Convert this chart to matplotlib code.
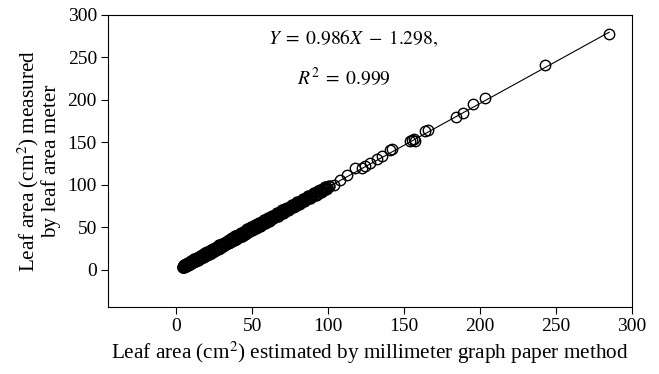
import matplotlib
matplotlib.use('Agg')
import matplotlib.pyplot as plt
import numpy as np

# leaf area, graph paper method (x) vs leaf area meter (y)
x_dense = [4.2, 4.8, 5.1, 5.6, 6.0, 6.3, 7.1, 7.4, 8.2, 8.8, 9.5, 10.3, 11.0, 11.8,
           12.4, 13.5, 14.1, 15.2, 16.0, 16.8, 17.9, 18.5, 19.6, 20.4, 21.3, 22.5,
           23.1, 24.2, 25.0, 26.4, 27.1, 28.3, 29.0, 30.2, 31.5, 32.4, 33.8, 34.5,
           35.6, 36.9, 37.7, 38.8, 39.5, 40.6, 41.9, 42.8, 43.6, 44.9, 45.7, 46.8,
           48.0, 49.2, 50.5, 51.8, 53.1, 54.6, 55.9, 57.4, 58.8, 60.3, 61.7, 63.2,
           64.5, 66.1, 67.8, 69.4, 71.0, 72.6, 74.3, 76.1, 77.9, 79.5, 81.4, 83.2,
           85.0, 86.9, 88.7, 90.8, 92.5, 94.3, 96.0, 97.6, 99.2, 100.5]
y_dense = [3.0, 4.2, 3.2, 5.0, 4.1, 6.2, 5.3, 7.5, 6.4, 8.9, 8.1, 10.6, 9.2, 12.1,
           10.5, 13.8, 12.0, 15.5, 14.0, 17.2, 16.0, 19.1, 17.6, 21.0, 19.0, 22.9,
           20.9, 24.6, 22.6, 26.8, 24.7, 28.6, 26.5, 30.7, 29.0, 33.0, 31.4, 35.2,
           33.0, 37.4, 35.2, 39.4, 37.0, 41.3, 39.6, 43.5, 41.0, 45.6, 43.3, 47.4,
           45.5, 49.9, 48.2, 52.5, 50.6, 55.4, 53.1, 58.0, 56.2, 60.9, 59.1, 63.7,
           62.0, 66.5, 65.3, 69.8, 68.4, 73.0, 71.5, 76.0, 75.2, 79.6, 78.8, 83.0,
           82.4, 86.5, 86.0, 90.3, 89.6, 93.8, 93.1, 96.9, 96.5, 98.8]
x_dense2 = [4.5, 5.3, 5.9, 6.7, 7.7, 8.5, 9.1, 9.9, 10.7, 11.4, 12.1, 12.9, 13.8,
            14.6, 15.6, 16.4, 17.3, 18.2, 19.0, 19.9, 20.8, 21.8, 22.7, 23.6, 24.6,
            25.6, 26.7, 27.6, 28.7, 29.6, 30.7, 31.9, 32.9, 34.1, 35.0, 36.2, 37.3,
            38.3, 39.1, 40.1, 41.2, 42.3, 43.2, 44.2, 45.3, 46.2, 47.3, 48.6, 49.8,
            51.1, 52.4, 53.8, 55.2, 56.6, 58.1, 59.5, 61.0, 62.4, 63.8, 65.3, 66.9,
            68.6, 70.2, 71.8, 73.4, 75.2, 77.0, 78.7, 80.4, 82.3, 84.1, 85.9, 87.8,
            89.7, 91.6, 93.4, 95.1, 96.8, 98.4]
y_dense2 = [3.6, 5.1, 3.8, 6.6, 5.9, 8.3, 7.0, 9.8, 8.6, 11.2, 9.9, 12.7, 11.5,
            14.4, 13.2, 16.3, 15.0, 18.0, 16.5, 19.7, 18.4, 21.5, 20.0, 23.4, 22.1,
            25.4, 24.2, 27.3, 26.0, 29.5, 28.1, 31.6, 30.3, 33.9, 32.2, 35.9, 34.6,
            38.0, 36.4, 39.8, 38.5, 42.0, 40.2, 43.9, 42.6, 45.8, 44.5, 48.1, 46.9,
            50.6, 49.5, 53.3, 52.0, 56.1, 55.1, 58.9, 57.9, 61.8, 60.7, 64.6, 63.6,
            67.9, 67.0, 71.0, 70.2, 74.4, 73.7, 77.8, 77.1, 81.3, 80.7, 84.8, 84.3,
            88.6, 88.1, 92.2, 91.6, 95.6, 94.8]
x_sparse = [103.5, 107.9, 112.3, 117.8, 122.1, 124.3, 127.6, 132.4, 135.3, 140.8,
            141.9, 154.0, 155.0, 156.2, 157.0, 163.4, 166.0, 184.2, 188.6, 195.6,
            203.3, 242.8, 285.1]
y_sparse = [100.0, 106.0, 111.9, 119.8, 120.3, 121.7, 125.6, 130.4, 133.5, 140.6,
            142.0, 151.5, 153.1, 154.0, 152.0, 162.9, 164.9, 179.4, 184.0, 195.0,
            201.8, 241.5, 277.0]

slope, intercept = 0.986, -1.298
fit_range = [4.0, 285.0]

plt.rcParams['font.family'] = 'Liberation Serif'
plt.rcParams['mathtext.fontset'] = 'stix'

fig = plt.figure(figsize=(6.59, 3.74), dpi=100)
ax = fig.add_axes([0.164, 0.179, 0.795, 0.781])

# dense part drawn with heavier edges, it prints as a solid band
ax.plot(x_dense + x_dense2, y_dense + y_dense2, linestyle='none', marker='o',
        ms=7.5, mfc='none', mec='black', mew=1.5)
ax.plot(x_sparse, y_sparse, linestyle='none', marker='o',
        ms=7.5, mfc='none', mec='black', mew=1.0)

fx = np.array(fit_range)
ax.plot(fx, slope * fx + intercept, color='black', lw=0.8)

ax.set_xlim(-45, 300)
ax.set_ylim(-44, 300)
ax.set_xticks([0, 50, 100, 150, 200, 250, 300])
ax.set_yticks([0, 50, 100, 150, 200, 250, 300])
ax.tick_params(direction='out', length=5, width=0.8, labelsize=14, pad=3,
               top=False, right=False)
for s in ax.spines.values():
    s.set_linewidth(0.8)

ax.set_xlabel('Leaf area (cm$^2$) estimated by millimeter graph paper method',
              fontsize=15.3, labelpad=3)
ax.set_ylabel('Leaf area (cm$^2$) measured\nby leaf area meter', fontsize=15.3,
              linespacing=1.0, labelpad=5)

ax.text(60.5, 273, r'$Y\;=\;0.986X\;-\;1.298,$', fontsize=14, va='center', ha='left')
ax.text(79.5, 226, r'$R^2\;=\;0.999$', fontsize=14, va='center', ha='left')

plt.savefig('out.png', dpi=100)
